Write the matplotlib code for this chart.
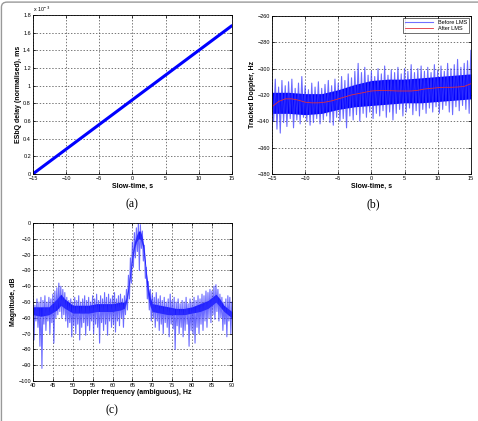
import numpy as np
import matplotlib
matplotlib.use("Agg")
import matplotlib.pyplot as plt
from matplotlib.patches import FancyBboxPatch
from matplotlib.lines import Line2D

plt.rcParams['font.family'] = ['Liberation Sans', 'DejaVu Sans']

# ── data ─────────────────────────────────────────────────────────────────────

# (a) ESbQ delay vs slow-time
a_time = [-15, 15]
a_delay = [0.0, 1.68e-3]

# (b) tracked Doppler: extremes every 0.5 s, dense core every 2.5 s, LMS curve
b_spike_time = np.linspace(-15, 15, 61)
b_upper = [-312, -308, -314, -309, -313, -310, -308, -315, -311, -306,
           -313, -316, -311, -314, -310, -315, -312, -309, -313, -308,
           -311, -306, -309, -304, -307, -302, -296, -303, -299, -305,
           -302, -306, -300, -304, -298, -305, -301, -303, -299, -304,
           -300, -302, -297, -303, -300, -298, -302, -299, -303, -297,
           -301, -298, -302, -296, -300, -297, -293, -299, -296, -294,
           -286]
b_lower = [-340, -346, -349, -341, -344, -338, -345, -339, -342, -337,
           -340, -343, -341, -338, -342, -339, -336, -341, -343, -337,
           -340, -338, -345, -336, -339, -335, -340, -334, -337, -333,
           -338, -334, -336, -332, -337, -333, -339, -334, -331, -336,
           -333, -330, -335, -332, -336, -331, -334, -330, -333, -329,
           -334, -331, -328, -333, -335, -329, -332, -328, -331, -334,
           -336]
b_core_time = [-15, -12.5, -10, -7.5, -5, -2.5, 0, 2.5, 5, 7.5, 10, 12.5, 15]
b_core_top = [-318, -318, -319, -319, -316, -312, -309, -308, -308, -307,
              -306, -305, -304]
b_core_bot = [-334, -334, -335, -334, -331, -329, -328, -327, -326, -326,
              -325, -324, -323]
b_lms_time = list(range(-15, 16))
b_lms = [-329, -325, -323, -323, -324, -325.5, -326, -326, -325.5, -324.5,
         -323, -321.5, -320, -319, -318, -317, -316.7, -316.7, -316.8, -317,
         -317, -317, -316.5, -315.5, -315, -314.5, -314.2, -314.2, -314.0,
         -313.5, -311.5]

# (c) spectrum: extremes every 0.5 Hz plus dense core
c_freq = np.linspace(40, 90, 101)
c_upper = [-50, -52, -48, -50, -47, -49, -46, -50, -47, -48,
           -45, -43, -41, -38, -40, -42, -44, -47, -49, -48,
           -50, -47, -49, -46, -50, -48, -46, -49, -47, -50,
           -46, -48, -45, -49, -46, -48, -44, -47, -45, -48,
           -46, -44, -48, -46, -45, -48, -46, -42, -33, -22,
           -12, -6, -3, 0, -1, -5, -14, -28, -37, -42,
           -45, -47, -44, -48, -46, -49, -47, -50, -48, -45,
           -49, -47, -50, -48, -51, -49, -50, -47, -51, -48,
           -50, -47, -49, -46, -48, -45, -46, -43, -44, -42,
           -43, -40, -39, -42, -45, -47, -50, -48, -46, -47,
           -50]
c_lower = [-74, -62, -66, -78, -92, -64, -68, -62, -70, -63,
           -76, -60, -58, -56, -60, -58, -62, -66, -63, -72,
           -65, -70, -64, -74, -66, -63, -71, -65, -68, -62,
           -70, -64, -66, -76, -63, -68, -64, -71, -62, -66,
           -64, -69, -62, -65, -60, -66, -58, -55, -48, -38,
           -28, -22, -18, -30, -16, -24, -35, -48, -55, -62,
           -60, -66, -62, -68, -64, -70, -63, -66, -72, -64,
           -67, -80, -65, -70, -66, -72, -68, -64, -78, -68,
           -70, -76, -66, -70, -64, -68, -62, -66, -60, -63,
           -58, -61, -56, -62, -60, -68, -64, -72, -62, -70,
           -66]
c_core_freq = [40, 42, 44, 46, 47, 48, 50, 52, 54, 56, 58, 60, 62, 63, 63.5,
               64, 64.5, 65, 65.5, 66, 66.5, 67, 67.5, 68, 68.5, 69, 69.5, 70,
               72, 74, 76, 78, 80, 82, 84, 85, 86, 87, 88, 90]
c_core_top = [-53, -53, -53, -48, -45, -48, -52, -52, -52, -51, -51, -51, -50,
              -50, -47, -39, -29, -19, -12, -8, -5, -5, -9, -17, -31, -41, -47,
              -51, -52, -53, -54, -54, -53, -51, -49, -47, -45, -48, -52, -56]
c_core_bot = [-58, -59, -58, -55, -52, -54, -57, -57, -57, -56, -56, -56, -55,
              -54, -50, -43, -33, -23, -16, -12, -10, -10, -14, -23, -38, -48,
              -53, -56, -57, -58, -58, -58, -57, -56, -54, -52, -50, -53, -56,
              -60]

# ── helpers ──────────────────────────────────────────────────────────────────

BLUE = '#0000ff'
LIGHT = '#3a3aff'


def zigzag(x, hi, lo, step):
    """Interleave the upper and lower extremes into one jagged trace."""
    x = np.asarray(x, float)
    xs = np.column_stack([x, x + step]).ravel()
    ys = np.column_stack([hi, lo]).ravel()
    return xs, ys


def style(ax, xlabel, ylabel):
    ax.grid(True, color='0.25', linestyle=(0, (2, 2.5)), linewidth=0.5)
    ax.set_axisbelow(True)
    ax.tick_params(direction='in', length=2, width=0.5, labelsize=4,
                   top=True, right=True, pad=1.5)
    for s in ax.spines.values():
        s.set_linewidth(0.6)
    ax.set_xlabel(xlabel, fontsize=5, fontweight='bold', labelpad=1)
    ax.set_ylabel(ylabel, fontsize=5, fontweight='bold', labelpad=1)


# ── figure ───────────────────────────────────────────────────────────────────

fig = plt.figure(figsize=(4.78, 4.21), dpi=100)

# (a)
ax1 = fig.add_axes([0.069, 0.587, 0.416, 0.377])
ax1.plot(a_time, a_delay, color=BLUE, linewidth=2.2, solid_capstyle='round')
ax1.set_xlim(-15, 15)
ax1.set_ylim(0, 1.8e-3)
ax1.set_xticks(range(-15, 16, 5))
yt = np.arange(0, 1.81e-3, 0.2e-3)
ax1.set_yticks(yt)
ax1.set_yticklabels(['%g' % round(v * 1e3, 1) for v in yt])
style(ax1, 'Slow-time, s', 'ESbQ delay (normalised), ms')
ax1.text(0.0, 1.005, r'x 10$^{-3}$', transform=ax1.transAxes,
         fontsize=3.8, ha='left', va='bottom')

# (b)
ax2 = fig.add_axes([0.569, 0.587, 0.416, 0.375])
zx, zy = zigzag(b_spike_time, b_upper, b_lower, 0.25)
ax2.plot(zx, zy, color=LIGHT, linewidth=0.8, alpha=0.75)
ax2.fill_between(b_core_time, b_core_bot, b_core_top, color=BLUE, lw=0)
ax2.plot(b_lms_time, b_lms, color='#e0303a', linewidth=0.6)
ax2.set_xlim(-15, 15)
ax2.set_ylim(-380, -260)
ax2.set_xticks(range(-15, 16, 5))
ax2.set_yticks(range(-380, -259, 20))
style(ax2, 'Slow-time, s', 'Tracked Doppler, Hz')
handles = [Line2D([], [], color='#7070ff', lw=0.8), Line2D([], [], color='#e0303a', lw=0.6)]
leg = ax2.legend(handles, ['Before LMS', 'After LMS'], loc='upper right',
                 fontsize=4, frameon=True, fancybox=False, edgecolor='black',
                 borderpad=0.4, handlelength=5, labelspacing=0.2,
                 borderaxespad=0.3)
leg.get_frame().set_linewidth(0.5)

# (c)
ax3 = fig.add_axes([0.069, 0.095, 0.416, 0.375])
zx, zy = zigzag(c_freq, c_upper, c_lower, 0.25)
ax3.plot(zx, zy, color=LIGHT, linewidth=0.8, alpha=0.75)
ax3.fill_between(c_core_freq, c_core_bot, c_core_top, color=BLUE, lw=0)
ax3.set_xlim(40, 90)
ax3.set_ylim(-100, 0)
ax3.set_xticks(range(40, 91, 5))
ax3.set_yticks(range(-100, 1, 10))
style(ax3, 'Doppler frequency (ambiguous), Hz', 'Magnitude, dB')

# sub-captions
for x, y, s in [(132 / 478, 1 - 204 / 421, '(a)'), (373 / 478, 1 - 204 / 421, '(b)'),
                (112 / 478, 1 - 410 / 421, '(c)')]:
    fig.text(x, y, s, ha='center', va='center', fontsize=8.5,
             family='Liberation Serif')

# page border (only top and left visible)
fig.patches.append(FancyBboxPatch((0.003, -0.2), 1.3, 1.195,
                                  boxstyle='round,pad=0,rounding_size=0.012',
                                  transform=fig.transFigure, fill=False,
                                  edgecolor='0.6', linewidth=1.0))

fig.savefig('out.png', dpi=100)
